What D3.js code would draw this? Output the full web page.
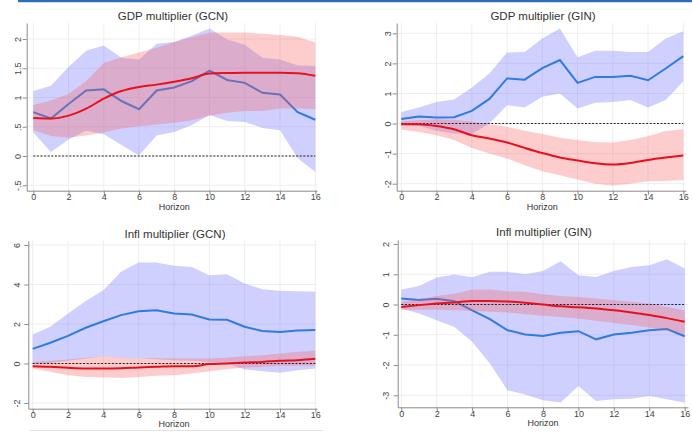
<!DOCTYPE html>
<html>
<head>
<meta charset="utf-8">
<script src="https://cdn.jsdelivr.net/npm/d3@7"></script>
<style>
  body { margin: 0; background: #fff; }
  svg { display: block; font-family: "Liberation Sans", Arial, sans-serif; }
</style>
</head>
<body>
<div id="chart"></div>
<script>
// horizons 0..16
const horizon = [0,1,2,3,4,5,6,7,8,9,10,11,12,13,14,15,16];

// GDP multiplier (GCN)
const gdpGcnBlue   = [0.75,0.64,0.89,1.12,1.14,0.94,0.80,1.12,1.17,1.28,1.46,1.30,1.25,1.08,1.05,0.75,0.62];
const gdpGcnBlueHi = [1.11,1.20,1.52,1.80,1.89,1.68,1.65,1.92,1.95,2.06,2.18,1.99,1.90,1.68,1.65,1.55,1.54];
const gdpGcnBlueLo = [0.40,0.07,0.28,0.43,0.37,0.19,0.01,0.35,0.41,0.53,0.70,0.60,0.58,0.48,0.44,-0.04,-0.27];
const gdpGcnRed    = [0.65,0.64,0.69,0.81,0.98,1.11,1.18,1.22,1.27,1.33,1.41,1.42,1.425,1.425,1.425,1.415,1.37];
const gdpGcnRedHi  = [0.87,0.95,1.06,1.28,1.59,1.69,1.77,1.85,1.95,2.03,2.11,2.11,2.11,2.09,2.07,2.04,1.94];
const gdpGcnRedLo  = [0.44,0.34,0.31,0.35,0.40,0.47,0.51,0.54,0.57,0.61,0.69,0.74,0.77,0.77,0.81,0.81,0.80];

// GDP multiplier (GIN)
const gdpGinBlue   = [0.15,0.23,0.20,0.21,0.42,0.82,1.50,1.46,1.84,2.11,1.35,1.55,1.55,1.59,1.44,1.83,2.24];
const gdpGinBlueHi = [0.38,0.53,0.72,0.80,1.20,1.66,2.36,2.38,2.83,3.16,2.20,2.42,2.42,2.38,2.38,2.83,3.07];
const gdpGinBlueLo = [0.00,-0.08,-0.24,-0.33,-0.35,0.00,0.61,0.53,0.89,1.00,0.50,0.69,0.72,0.78,0.53,0.78,1.41];
const gdpGinRed    = [-0.02,-0.02,-0.08,-0.19,-0.39,-0.50,-0.63,-0.81,-0.98,-1.13,-1.23,-1.32,-1.36,-1.31,-1.21,-1.13,-1.06];
const gdpGinRedHi  = [0.08,0.11,0.14,0.13,0.06,-0.02,-0.11,-0.24,-0.35,-0.47,-0.55,-0.61,-0.63,-0.55,-0.42,-0.25,-0.19];
const gdpGinRedLo  = [-0.20,-0.28,-0.39,-0.55,-0.81,-1.00,-1.16,-1.39,-1.59,-1.72,-1.86,-2.00,-2.07,-2.00,-1.92,-1.91,-1.88];

// Infl multiplier (GCN)
const inflGcnBlue   = [0.74,1.05,1.40,1.81,2.14,2.45,2.65,2.70,2.53,2.48,2.23,2.21,1.86,1.65,1.59,1.67,1.69];
const inflGcnBlueHi = [1.47,1.86,2.53,3.16,3.71,4.64,5.11,5.11,4.95,4.89,4.47,4.52,4.05,3.76,3.68,3.66,3.63];
const inflGcnBlueLo = [0.00,0.03,0.14,0.25,0.37,0.29,0.25,0.22,0.17,0.14,0.08,0.00,-0.30,-0.39,-0.47,-0.34,-0.25];
const inflGcnRed    = [-0.14,-0.17,-0.22,-0.25,-0.25,-0.24,-0.20,-0.17,-0.14,-0.14,-0.03,0.00,0.05,0.08,0.14,0.17,0.24];
const inflGcnRedHi  = [0.08,0.14,0.20,0.29,0.37,0.30,0.25,0.27,0.25,0.25,0.25,0.29,0.37,0.42,0.51,0.59,0.64];
const inflGcnRedLo  = [-0.25,-0.42,-0.59,-0.68,-0.71,-0.73,-0.68,-0.62,-0.59,-0.51,-0.39,-0.29,-0.20,-0.17,-0.12,-0.12,-0.10];

// Infl multiplier (GIN)
const inflGinBlue   = [0.20,0.15,0.19,0.11,-0.19,-0.48,-0.85,-0.99,-1.04,-0.93,-0.88,-1.15,-0.99,-0.93,-0.85,-0.81,-1.05];
const inflGinBlueHi = [0.50,0.61,0.89,0.99,0.90,1.08,1.08,1.00,1.11,1.43,0.97,0.91,1.11,1.24,1.30,1.50,1.19];
const inflGinBlueLo = [-0.13,-0.30,-0.52,-0.74,-1.23,-1.95,-2.83,-2.97,-3.16,-3.24,-2.69,-3.19,-3.13,-3.11,-3.02,-3.13,-3.25];
const inflGinRed    = [-0.08,-0.02,0.03,0.07,0.12,0.12,0.10,0.06,0.00,-0.06,-0.09,-0.13,-0.19,-0.26,-0.35,-0.45,-0.57];
const inflGinRedHi  = [0.09,0.18,0.28,0.36,0.50,0.50,0.44,0.42,0.34,0.28,0.25,0.20,0.14,0.09,0.03,-0.08,-0.19];
const inflGinRedLo  = [-0.19,-0.17,-0.17,-0.19,-0.21,-0.24,-0.26,-0.32,-0.37,-0.41,-0.46,-0.54,-0.61,-0.68,-0.76,-0.85,-0.98];

const xTicks = [0,2,4,6,8,10,12,14,16];

const panels = [
  { title: "GDP multiplier (GCN)", blue: gdpGcnBlue, blueHi: gdpGcnBlueHi, blueLo: gdpGcnBlueLo,
    red: gdpGcnRed, redHi: gdpGcnRedHi, redLo: gdpGcnRedLo,
    yTicks: [-0.5,0,0.5,1,1.5,2], yFmt: d => String(d).replace(/^(-?)0\./, "$1."),
    axisX: 26.7, x0: 33.3, x16: 315.3, right: 317, top: 23, bottom: 190.7,
    yA: [0, 156], yB: [2, 39], tickLabelX: 17.7, titleX: 173, titleY: 20, tickY: 200, horizonY: 209.5 },
  { title: "GDP multiplier (GIN)", blue: gdpGinBlue, blueHi: gdpGinBlueHi, blueLo: gdpGinBlueLo,
    red: gdpGinRed, redHi: gdpGinRedHi, redLo: gdpGinRedLo,
    yTicks: [-2,-1,0,1,2,3], yFmt: d => String(d),
    axisX: 396.7, x0: 401.3, x16: 683.3, right: 686, top: 23, bottom: 190.7,
    yA: [-2, 183.7], yB: [3, 33.3], tickLabelX: 387.7, titleX: 543, titleY: 20, tickY: 200, horizonY: 209.5 },
  { title: "Infl multiplier (GCN)", blue: inflGcnBlue, blueHi: inflGcnBlueHi, blueLo: inflGcnBlueLo,
    red: inflGcnRed, redHi: inflGcnRedHi, redLo: inflGcnRedLo,
    yTicks: [-2,0,2,4,6], yFmt: d => String(d),
    axisX: 28.3, x0: 32.7, x16: 315.3, right: 317, top: 240.7, bottom: 408.7,
    yA: [-2, 403], yB: [6, 245], tickLabelX: 16.7, titleX: 175, titleY: 237.5, tickY: 417.7, horizonY: 426.5 },
  { title: "Infl multiplier (GIN)", blue: inflGinBlue, blueHi: inflGinBlueHi, blueLo: inflGinBlueLo,
    red: inflGinRed, redHi: inflGinRedHi, redLo: inflGinRedLo,
    yTicks: [-3,-2,-1,0,1,2], yFmt: d => String(d),
    axisX: 397.7, x0: 401.3, x16: 684.7, right: 688, top: 240, bottom: 407.3,
    yA: [-3, 395.3], yB: [2, 244], tickLabelX: 386, titleX: 544, titleY: 236, tickY: 416.7, horizonY: 426 }
];

const width = 692, height = 439;

const svg = d3.select("#chart").append("svg")
    .attr("width", width)
    .attr("height", height);

// thin blue rule along the top of the figure
svg.append("line")
    .attr("x1", 18).attr("x2", width)
    .attr("y1", 1).attr("y2", 1)
    .attr("stroke", "#2e6db5")
    .attr("stroke-width", 2.5);

// faint separator under the lower-left panel
svg.append("line")
    .attr("x1", 30).attr("x2", 323)
    .attr("y1", 430.5).attr("y2", 430.5)
    .attr("stroke", "#e2e2e2")
    .attr("stroke-width", 1);

panels.forEach(p => {
    let g = svg.append("g");

    // scales, calibrated on tick positions then stretched to the axis lines
    let x = d3.scaleLinear().domain([0, 16]).range([p.x0, p.x16]);
    let yTmp = d3.scaleLinear().domain([p.yA[0], p.yB[0]]).range([p.yA[1], p.yB[1]]);
    let y = d3.scaleLinear().domain([yTmp.invert(p.bottom), yTmp.invert(p.top)]).range([p.bottom, p.top]);
    let xFull = d3.scaleLinear().domain([x.invert(p.axisX), x.invert(p.right)]).range([p.axisX, p.right]);

    // gridlines
    g.append("g").selectAll("line").data(xTicks).join("line")
        .attr("x1", d => x(d)).attr("x2", d => x(d))
        .attr("y1", p.top).attr("y2", p.bottom)
        .attr("stroke", "#eeeeee").attr("stroke-width", 1);
    g.append("g").selectAll("line").data(p.yTicks).join("line")
        .attr("x1", p.axisX).attr("x2", p.right)
        .attr("y1", d => y(d)).attr("y2", d => y(d))
        .attr("stroke", "#eeeeee").attr("stroke-width", 1);

    let data = horizon.map((h, i) => ({
        h: h, blue: p.blue[i], blueHi: p.blueHi[i], blueLo: p.blueLo[i],
        red: p.red[i], redHi: p.redHi[i], redLo: p.redLo[i]
    }));

    let bandBlue = d3.area().x(d => x(d.h)).y0(d => y(d.blueLo)).y1(d => y(d.blueHi));
    let bandRed = d3.area().x(d => x(d.h)).y0(d => y(d.redLo)).y1(d => y(d.redHi));
    let lineBlue = d3.line().x(d => x(d.h)).y(d => y(d.blue));
    let lineRed = d3.line().x(d => x(d.h)).y(d => y(d.red)).curve(d3.curveMonotoneX);

    g.append("path").datum(data)
        .attr("d", bandBlue)
        .attr("fill", "rgb(110,110,255)")
        .attr("fill-opacity", 0.32);

    g.append("path").datum(data)
        .attr("d", lineBlue)
        .attr("fill", "none")
        .attr("stroke", "#2f7be0")
        .attr("stroke-width", 2);

    g.append("path").datum(data)
        .attr("d", bandRed)
        .attr("fill", "rgb(250,90,90)")
        .attr("fill-opacity", 0.3);

    // zero reference
    g.append("line")
        .attr("x1", x(0)).attr("x2", x(16))
        .attr("y1", y(0)).attr("y2", y(0))
        .attr("stroke", "#222")
        .attr("stroke-width", 1.1)
        .attr("stroke-dasharray", "2,1.6");

    g.append("path").datum(data)
        .attr("d", lineRed)
        .attr("fill", "none")
        .attr("stroke", "#e8101e")
        .attr("stroke-width", 2);

    // axes
    let xAxis = g.append("g")
        .attr("transform", "translate(0," + p.bottom + ")")
        .call(d3.axisBottom(xFull).tickValues(xTicks).tickSize(4).tickSizeOuter(0));
    xAxis.selectAll("text").remove();
    xAxis.selectAll(".tick").append("text")
        .attr("y", p.tickY - p.bottom)
        .attr("fill", "#444")
        .attr("font-size", "9px")
        .attr("text-anchor", "middle")
        .text(d => d);

    let yAxis = g.append("g")
        .attr("transform", "translate(" + p.axisX + ",0)")
        .call(d3.axisLeft(y).tickValues(p.yTicks).tickSize(4).tickSizeOuter(0));
    yAxis.selectAll("text").remove();
    yAxis.selectAll(".tick").append("text")
        .attr("transform", "translate(" + (p.tickLabelX - p.axisX + 3.2) + ",0) rotate(-90)")
        .attr("fill", "#444")
        .attr("font-size", "9px")
        .attr("text-anchor", "middle")
        .text(p.yFmt);

    [xAxis, yAxis].forEach(a => {
        a.select(".domain").attr("stroke", "#8a8a8a");
        a.selectAll(".tick line").attr("stroke", "#8a8a8a");
    });

    // title and axis title
    g.append("text")
        .attr("x", p.titleX).attr("y", p.titleY)
        .attr("text-anchor", "middle")
        .attr("font-size", "11.5px")
        .attr("fill", "#333")
        .text(p.title);

    g.append("text")
        .attr("x", (p.x0 + p.x16) / 2).attr("y", p.horizonY)
        .attr("text-anchor", "middle")
        .attr("font-size", "9px")
        .attr("fill", "#333")
        .text("Horizon");
});
</script>
</body>
</html>
